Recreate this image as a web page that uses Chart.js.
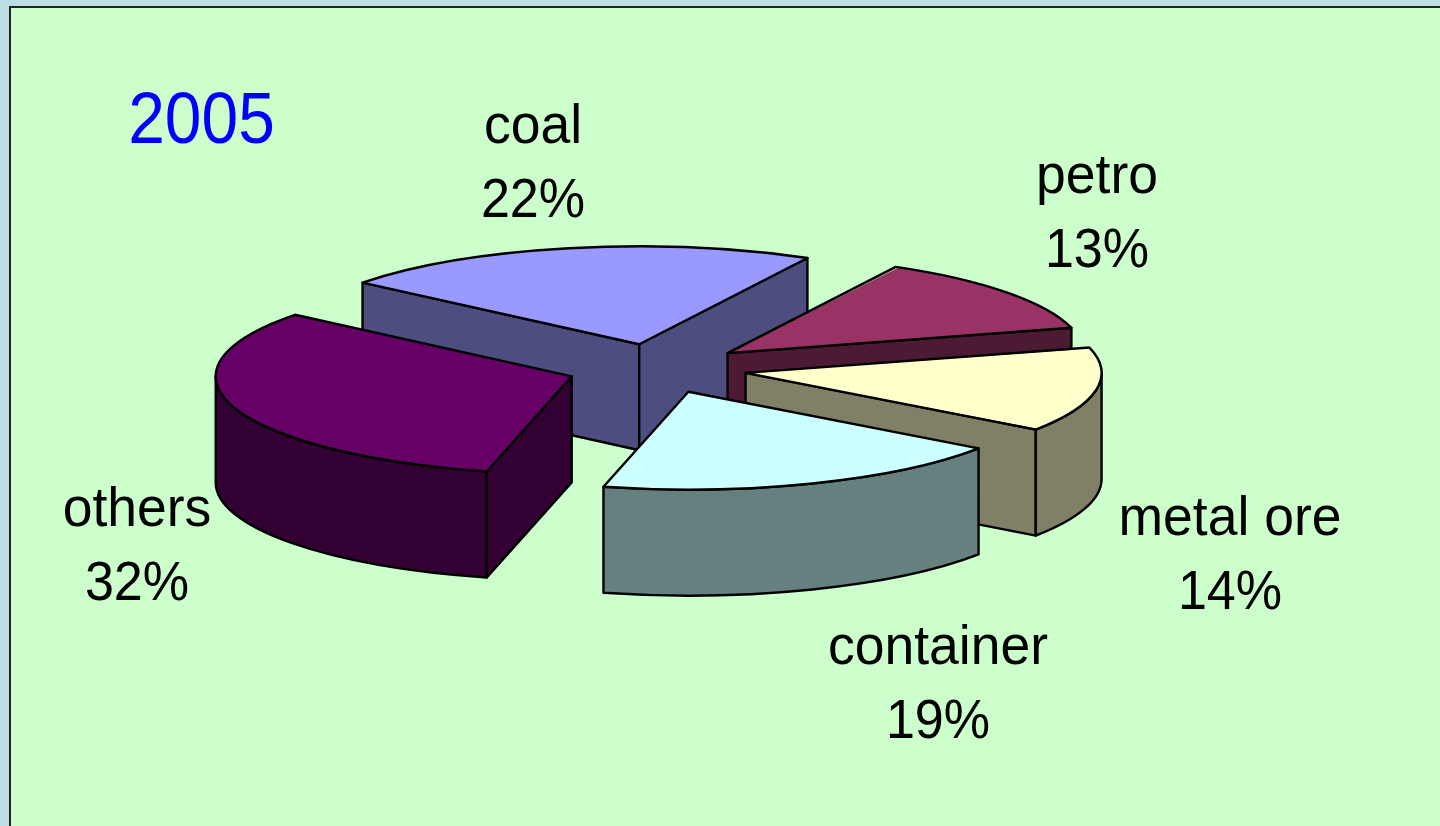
<!DOCTYPE html>
<html>
<head>
<meta charset="utf-8">
<title>2005</title>
<script src="https://cdn.jsdelivr.net/npm/chart.js@4"></script>
<style>
    html, body { margin: 0; padding: 0; width: 1440px; height: 826px; overflow: hidden; background: #bbdde3; }
    #frame { position: absolute; left: 9px; top: 6px; right: 0; bottom: 0; background: #ccffcc; border-left: 2px solid #222; border-top: 2px solid #222; }
    #pie { position: absolute; left: 0; top: 0; }
</style>
</head>
<body>
<div id="frame"></div>
<canvas id="pie" width="1440" height="826"></canvas>
<script>
const chartTitle = '2005';
const categories = ['coal', 'petro', 'metal ore', 'container', 'others'];
const shares = [22, 13, 14, 19, 32];
const topColors = ['#9999ff', '#993366', '#ffffcc', '#ccffff', '#660066'];
const wallColors = ['#4d4d80', '#4d1a33', '#808066', '#668080', '#330033'];

// layout of the fake 3D look, measured on the picture
const tilt = 0.275;
const depth = 106;
const pieRadius = 356;
const explode = 90;
const firstSliceAngle = -51;
const outline = 2.4;
const labelFont = 56;
const labelSquash = 0.955;
const percentSquash = 0.93;
const lineGap = 74;
// center x, first baseline
const labelSpots = [[533, 143], [1097, 193], [1230, 535], [938, 664], [137, 526]];

function sliceInfo(el) {
    const mid = (el.startAngle + el.endAngle) / 2;
    // the arc element only moves by a quarter of its offset option
    const shift = el.options.offset / 4;
    return {
        x: el.x + Math.cos(mid) * shift,
        y: el.y + Math.sin(mid) * shift * tilt,
        r: pieRadius,
        a0: el.startAngle,
        a1: el.endAngle,
        mid: mid
    };
}

function rimPoint(s, angle, drop) {
    return [s.x + Math.cos(angle) * s.r, s.y + Math.sin(angle) * s.r * tilt + drop];
}

function paintFace(ctx, color) {
    ctx.closePath();
    ctx.fillStyle = color;
    ctx.fill();
    ctx.stroke();
}

function drawWalls(ctx, s, color) {
    // side faces, only the ones that look toward the viewer
    if (Math.sin(s.a0 - Math.PI / 2) > 0) {
        const p = rimPoint(s, s.a0, 0);
        ctx.beginPath();
        ctx.moveTo(s.x, s.y);
        ctx.lineTo(p[0], p[1]);
        ctx.lineTo(p[0], p[1] + depth);
        ctx.lineTo(s.x, s.y + depth);
        paintFace(ctx, color);
    }
    if (Math.sin(s.a1 + Math.PI / 2) > 0) {
        const p = rimPoint(s, s.a1, 0);
        ctx.beginPath();
        ctx.moveTo(s.x, s.y);
        ctx.lineTo(p[0], p[1]);
        ctx.lineTo(p[0], p[1] + depth);
        ctx.lineTo(s.x, s.y + depth);
        paintFace(ctx, color);
    }
    // outer rim, front half of the ellipse only
    for (let k = -1; k <= 1; k++) {
        const from = Math.max(s.a0, k * 2 * Math.PI);
        const to = Math.min(s.a1, k * 2 * Math.PI + Math.PI);
        if (to <= from) continue;
        ctx.beginPath();
        ctx.ellipse(s.x, s.y, s.r, s.r * tilt, 0, from, to);
        ctx.ellipse(s.x, s.y + depth, s.r, s.r * tilt, 0, to, from, true);
        paintFace(ctx, color);
    }
}

function drawText(ctx, text, x, y, size, squash, color) {
    ctx.save();
    ctx.translate(x, y);
    ctx.scale(squash, 1);
    ctx.font = size + 'px "Liberation Sans", Arial, sans-serif';
    ctx.fillStyle = color;
    ctx.textAlign = 'center';
    ctx.textBaseline = 'alphabetic';
    ctx.fillText(text, 0, 0);
    ctx.restore();
}

const tiltedPie = {
    id: 'tiltedPie',
    afterDatasetsUpdate(chart) {
        // the arc element grows small slices by part of the offset, undo that
        chart.getDatasetMeta(0).data.forEach(el => {
            const shift = el.options.offset / 4;
            el.outerRadius = pieRadius - shift * (1 - Math.sin(Math.min(Math.PI, el.circumference)));
        });
    },
    beforeDatasetsDraw(chart) {
        const ctx = chart.ctx;
        const arcs = chart.getDatasetMeta(0).data;
        ctx.save();
        ctx.lineWidth = outline;
        ctx.lineJoin = 'round';
        ctx.strokeStyle = '#000';
        const order = arcs.map((el, i) => i).sort((a, b) => Math.sin(sliceInfo(arcs[a]).mid) - Math.sin(sliceInfo(arcs[b]).mid));
        order.forEach(i => drawWalls(ctx, sliceInfo(arcs[i]), wallColors[i]));
        ctx.restore();
        // the library paints the tops inside this squashed space
        const cy = arcs[0].y;
        ctx.save();
        ctx.translate(0, cy);
        ctx.scale(1, tilt);
        ctx.translate(0, -cy);
    },
    afterDatasetsDraw(chart) {
        const ctx = chart.ctx;
        ctx.restore();
        ctx.save();
        ctx.lineWidth = outline;
        ctx.lineJoin = 'round';
        ctx.strokeStyle = '#000';
        chart.getDatasetMeta(0).data.forEach(el => {
            const s = sliceInfo(el);
            ctx.beginPath();
            ctx.moveTo(s.x, s.y);
            ctx.ellipse(s.x, s.y, s.r, s.r * tilt, 0, s.a0, s.a1);
            ctx.closePath();
            ctx.stroke();
        });
        ctx.restore();
        categories.forEach((name, i) => {
            const spot = labelSpots[i];
            drawText(ctx, name, spot[0], spot[1], labelFont, labelSquash, '#000');
            drawText(ctx, shares[i] + '%', spot[0], spot[1] + lineGap, labelFont, percentSquash, '#000');
        });
        drawText(ctx, chartTitle, 201.5, 143, 72, 0.915, '#0000ff');
    }
};

new Chart(document.getElementById('pie').getContext('2d'), {
    type: 'pie',
    data: {
        labels: categories,
        datasets: [{
            data: shares,
            backgroundColor: topColors,
            borderWidth: 0,
            offset: explode * 4,
            clip: false
        }]
    },
    options: {
        responsive: false,
        animation: false,
        rotation: firstSliceAngle,
        radius: pieRadius,
        layout: { padding: { right: 126, bottom: 89 } },
        plugins: { legend: { display: false }, tooltip: { enabled: false } }
    },
    plugins: [tiltedPie]
});
</script>
</body>
</html>
